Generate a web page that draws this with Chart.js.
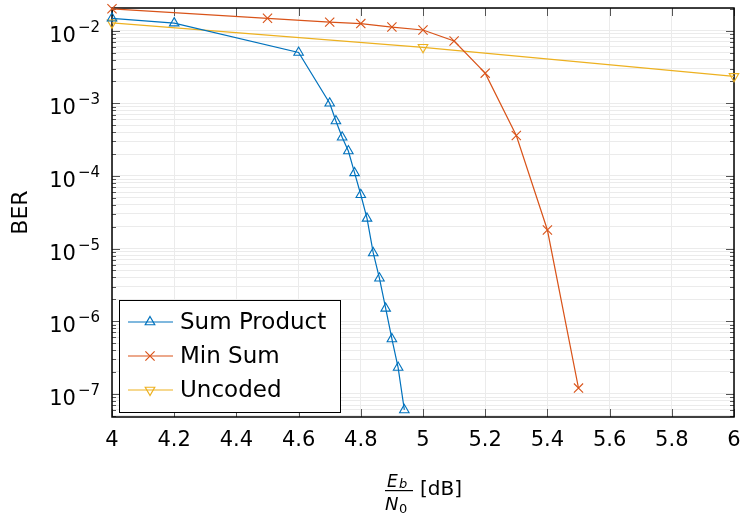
<!DOCTYPE html>
<html>
<head>
<meta charset="utf-8">
<script src="https://cdn.jsdelivr.net/npm/chart.js@4/dist/chart.umd.min.js"></script>
<style>
  html, body { margin: 0; padding: 0; background: #fff; overflow: hidden; }
  canvas { display: block; }
</style>
</head>
<body>
<canvas id="berChart" width="742" height="513"></canvas>
<script>
// Eb/N0 [dB] and BER per curve
var snrSumProduct = [4, 4.2, 4.6, 4.7, 4.72, 4.74, 4.76, 4.78, 4.8, 4.82, 4.84, 4.86, 4.88, 4.9, 4.92, 4.94];
var berSumProduct = [1.48e-2, 1.27e-2, 5.0e-3, 1.0e-3, 5.7e-4, 3.4e-4, 2.2e-4, 1.1e-4, 5.5e-5, 2.6e-5, 8.7e-6, 3.9e-6, 1.5e-6, 5.7e-7, 2.3e-7, 6.0e-8];

var snrMinSum = [4, 4.5, 4.7, 4.8, 4.9, 5, 5.1, 5.2, 5.3, 5.4, 5.5];
var berMinSum = [2.0e-2, 1.48e-2, 1.31e-2, 1.25e-2, 1.12e-2, 1.02e-2, 7.2e-3, 2.6e-3, 3.6e-4, 1.8e-5, 1.2e-7];

var snrUncoded = [4, 5, 6];
var berUncoded = [1.28e-2, 5.9e-3, 2.35e-3];

var seriesNames = ['Sum Product', 'Min Sum', 'Uncoded'];

// axis ticks
var xTicks = [4, 4.2, 4.4, 4.6, 4.8, 5, 5.2, 5.4, 5.6, 5.8, 6];
var yDecades = [-8, -7, -6, -5, -4, -3, -2];
var yLabelExps = [-7, -6, -5, -4, -3, -2];
var yMin = 4.8e-8, yMax = 2.05e-2;

var FONT = '"DejaVu Sans", sans-serif';

function toPoints(xs, ys){
    var out = [];
    for (var i = 0; i < xs.length; i++) out.push({x: xs[i], y: ys[i]});
    return out;
}

// list of y tick values: decades plus 2..9 minors
function logTickValues(){
    var vals = [];
    yDecades.forEach(function(e){
        for (var m = 1; m <= 9; m++) {
            var v = m * Math.pow(10, e);
            if (v >= yMin && v <= yMax) vals.push({value: v, major: m == 1});
        }
    });
    return vals;
}

// draws frame, inward ticks, y labels, legend and x title
var decorPlugin = {
    id: 'decor',
    beforeDatasetsDraw: function(chart){
        var ctx = chart.ctx;
        var a = chart.chartArea;
        var xs = chart.scales.x, ys = chart.scales.y;
        ctx.save();

        // inward ticks
        ctx.strokeStyle = '#555';
        ctx.lineWidth = 1;
        xTicks.forEach(function(t){
            var px = Math.round(xs.getPixelForValue(t)) + 0.5;
            ctx.beginPath();
            ctx.moveTo(px, a.top); ctx.lineTo(px, a.top + 8);
            ctx.moveTo(px, a.bottom); ctx.lineTo(px, a.bottom - 8);
            ctx.stroke();
        });
        logTickValues().forEach(function(t){
            var py = Math.round(ys.getPixelForValue(t.value)) + 0.5;
            var len = t.major ? 8 : 4;
            ctx.beginPath();
            ctx.moveTo(a.left, py); ctx.lineTo(a.left + len, py);
            ctx.moveTo(a.right, py); ctx.lineTo(a.right - len, py);
            ctx.stroke();
        });

        // frame
        ctx.strokeStyle = '#000';
        ctx.lineWidth = 1.5;
        ctx.strokeRect(a.left, a.top, a.right - a.left, a.bottom - a.top);
        ctx.restore();
    },
    afterDraw: function(chart){
        var ctx = chart.ctx;
        var a = chart.chartArea;
        var ys = chart.scales.y;
        ctx.save();

        // y tick labels 10^k
        ctx.fillStyle = '#000';
        ctx.textAlign = 'right';
        ctx.textBaseline = 'alphabetic';
        yLabelExps.forEach(function(e){
            var py = ys.getPixelForValue(Math.pow(10, e));
            var expText = '\u2212' + Math.abs(e);
            ctx.font = '15px ' + FONT;
            var ew = ctx.measureText(expText).width;
            ctx.fillText(expText, a.left - 12, py + 1);
            ctx.font = '21px ' + FONT;
            ctx.fillText('10', a.left - 14 - ew, py + 11);
        });

        // legend (south west)
        var bx = a.left + 7, by = a.bottom - 117, bw = 221, bh = 112;
        ctx.fillStyle = '#fff';
        ctx.fillRect(bx, by, bw, bh);
        ctx.strokeStyle = '#000';
        ctx.lineWidth = 1;
        ctx.strokeRect(bx + 0.5, by + 0.5, bw, bh);
        chart.data.datasets.forEach(function(ds, i){
            var ly = by + 22 + i * 34;
            ctx.strokeStyle = ds.borderColor;
            ctx.lineWidth = 1.2;
            ctx.beginPath();
            ctx.moveTo(bx + 9, ly); ctx.lineTo(bx + 54, ly);
            ctx.stroke();
            ctx.fillStyle = 'rgba(255,255,255,0)';
            Chart.helpers.drawPoint(ctx, {
                pointStyle: ds.pointStyle, rotation: ds.pointRotation || 0,
                radius: ds.pointRadius, borderWidth: 1
            }, bx + 31, ly);
            ctx.fillStyle = '#000';
            ctx.font = '23px ' + FONT;
            ctx.textBaseline = 'middle';
            ctx.textAlign = 'left';
            ctx.fillText(seriesNames[i], bx + 61, ly + 1);
        });

        // x title: Eb / N0 [dB]
        var cx = 398;
        ctx.fillStyle = '#000';
        ctx.textAlign = 'left';
        ctx.textBaseline = 'alphabetic';
        ctx.font = 'italic 17px ' + FONT;
        ctx.fillText('E', cx - 11, 487);
        ctx.font = 'italic 13px ' + FONT;
        ctx.fillText('b', cx + 1, 488);
        ctx.fillRect(cx - 13, 490, 28, 1.2);
        ctx.font = 'italic 18px ' + FONT;
        ctx.fillText('N', cx - 13, 510);
        ctx.font = '13px ' + FONT;
        ctx.fillText('0', cx + 1, 513);
        ctx.font = '20px ' + FONT;
        ctx.textBaseline = 'middle';
        ctx.fillText('[dB]', cx + 22, 490);

        ctx.restore();
    }
};

var ctx = document.getElementById('berChart').getContext('2d');

var berChart = new Chart(ctx, {
    type: 'line',
    data: {
        datasets: [{
            label: seriesNames[0],
            data: toPoints(snrSumProduct, berSumProduct),
            borderColor: '#0072BD',
            backgroundColor: '#0072BD',
            pointBackgroundColor: 'rgba(255,255,255,0)',
            pointStyle: 'triangle',
            pointRadius: 5.5,
            borderWidth: 1.2,
            pointBorderWidth: 1.1,
            clip: false
        }, {
            label: seriesNames[1],
            data: toPoints(snrMinSum, berMinSum),
            borderColor: '#D95319',
            backgroundColor: '#D95319',
            pointBackgroundColor: 'rgba(255,255,255,0)',
            pointStyle: 'crossRot',
            pointRadius: 6.5,
            borderWidth: 1.2,
            pointBorderWidth: 1.1,
            clip: false
        }, {
            label: seriesNames[2],
            data: toPoints(snrUncoded, berUncoded),
            borderColor: '#EDB120',
            backgroundColor: '#EDB120',
            pointBackgroundColor: 'rgba(255,255,255,0)',
            pointStyle: 'triangle',
            pointRotation: 180,
            pointRadius: 5.5,
            borderWidth: 1.2,
            pointBorderWidth: 1.1,
            clip: false
        }]
    },
    options: {
        responsive: false,
        animation: false,
        devicePixelRatio: 1,
        layout: { padding: { top: 8, right: 8, left: 0, bottom: 0 } },
        plugins: { legend: { display: false }, tooltip: { enabled: false } },
        scales: {
            x: {
                type: 'linear',
                min: 4, max: 6,
                afterBuildTicks: function(scale){
                    scale.ticks = xTicks.map(function(v){ return {value: v}; });
                },
                afterFit: function(scale){
                    scale.height = 96;
                    scale.paddingLeft = 0;
                    scale.paddingRight = 0;
                },
                ticks: {
                    autoSkip: false,
                    maxRotation: 0,
                    padding: 11,
                    color: '#000',
                    font: { family: FONT, size: 21 },
                    callback: function(v){ return String(v); }
                },
                grid: { color: '#ebebeb', drawTicks: false },
                border: { display: false }
            },
            y: {
                type: 'logarithmic',
                min: yMin, max: yMax,
                afterBuildTicks: function(scale){
                    scale.ticks = logTickValues().map(function(t){ return {value: t.value, major: t.major}; });
                },
                afterFit: function(scale){
                    scale.width = 112;
                    scale.paddingTop = 0;
                    scale.paddingBottom = 0;
                },
                ticks: {
                    autoSkip: false,
                    padding: 10,
                    font: { family: FONT, size: 21 },
                    callback: function(){ return ''; }
                },
                title: {
                    display: true,
                    text: 'BER',
                    color: '#000',
                    font: { family: FONT, size: 22 },
                    padding: { top: 8, bottom: 0 }
                },
                grid: { color: '#ebebeb', drawTicks: false },
                border: { display: false }
            }
        }
    },
    plugins: [decorPlugin]
});
</script>
</body>
</html>
